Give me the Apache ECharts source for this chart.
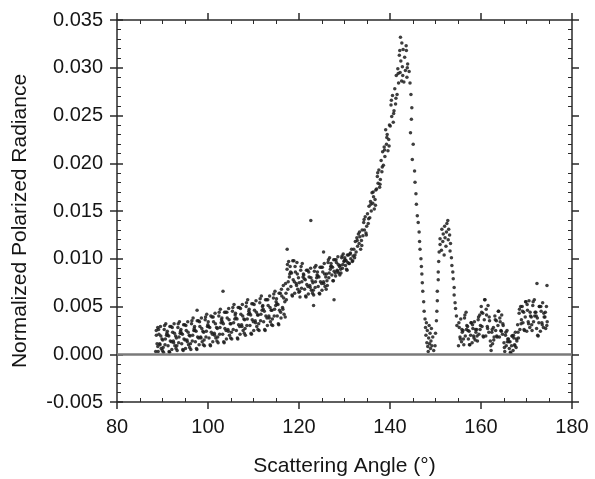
<!DOCTYPE html>
<html>
<head>
<meta charset="utf-8">
<script src="https://cdn.jsdelivr.net/npm/echarts@6/dist/echarts.min.js"></script>
<style>
  html, body { margin: 0; padding: 0; background: #fff; }
  #chart { width: 595px; height: 479px; }
</style>
</head>
<body>
<div id="chart"></div>
<script>
  // axis ticks
  var angleTicks = [80, 100, 120, 140, 160, 180]
  var radianceTicks = [-0.005, 0.000, 0.005, 0.010, 0.015, 0.020, 0.025, 0.030, 0.035]

  // [scattering angle (deg), normalized polarized radiance]
  var broadBand = [
    [88.5,0.0003],[88.65,0.0020],[88.8,0.0011],[88.95,0.0028],
    [89.05,0.0003],[89.22,0.0021],[89.38,0.0011],[89.55,0.0029],[89.72,0.0006],[89.88,0.0016],
    [90.05,0.0015],[90.22,0.0002],[90.38,0.0026],[90.55,0.0010],[90.72,0.0032],[90.88,0.0020],
    [91.05,0.0024],[91.22,0.0009],[91.38,0.0019],[91.55,0.0002],[91.72,0.0014],[91.88,0.0029],
    [92.05,0.0005],[92.22,0.0023],[92.38,0.0014],[92.55,0.0032],[92.72,0.0009],[92.88,0.0019],
    [93.05,0.0017],[93.22,0.0004],[93.38,0.0028],[93.55,0.0012],[93.72,0.0034],[93.88,0.0022],
    [94.05,0.0026],[94.22,0.0011],[94.38,0.0021],[94.55,0.0004],[94.72,0.0016],[94.88,0.0031],
    [95.05,0.0006],[95.22,0.0025],[95.38,0.0015],[95.55,0.0034],[95.72,0.0010],[95.88,0.0020],
    [96.05,0.0019],[96.22,0.0005],[96.38,0.0032],[96.55,0.0014],[96.72,0.0038],[96.88,0.0025],
    [97.05,0.0029],[97.22,0.0013],[97.38,0.0024],[97.55,0.0005],[97.72,0.0018],[97.88,0.0035],
    [98.05,0.0010],[98.22,0.0029],[98.38,0.0018],[98.55,0.0038],[98.72,0.0013],[98.88,0.0024],
    [99.05,0.0023],[99.22,0.0009],[99.38,0.0036],[99.55,0.0018],[99.72,0.0042],[99.88,0.0029],
    [100.05,0.0034],[100.22,0.0017],[100.38,0.0028],[100.55,0.0009],[100.72,0.0023],[100.88,0.0039],
    [101.05,0.0013],[101.22,0.0034],[101.38,0.0022],[101.55,0.0043],[101.72,0.0017],[101.88,0.0028],
    [102.05,0.0027],[102.22,0.0012],[102.38,0.0040],[102.55,0.0021],[102.72,0.0047],[102.88,0.0033],
    [103.05,0.0038],[103.22,0.0021],[103.38,0.0032],[103.55,0.0012],[103.72,0.0027],[103.88,0.0044],
    [104.05,0.0016],[104.22,0.0038],[104.38,0.0026],[104.55,0.0048],[104.72,0.0020],[104.88,0.0032],
    [105.05,0.0032],[105.22,0.0016],[105.38,0.0045],[105.55,0.0026],[105.72,0.0052],[105.88,0.0037],
    [106.05,0.0043],[106.22,0.0025],[106.38,0.0037],[106.55,0.0016],[106.72,0.0031],[106.88,0.0049],
    [107.05,0.0021],[107.22,0.0042],[107.38,0.0031],[107.55,0.0052],[107.72,0.0025],[107.88,0.0037],
    [108.05,0.0036],[108.22,0.0020],[108.38,0.0050],[108.55,0.0030],[108.72,0.0057],[108.88,0.0042],
    [109.05,0.0047],[109.22,0.0030],[109.38,0.0041],[109.55,0.0021],[109.72,0.0036],[109.88,0.0053],
    [110.05,0.0025],[110.22,0.0046],[110.38,0.0035],[110.55,0.0056],[110.72,0.0029],[110.88,0.0041],
    [111.05,0.0041],[111.22,0.0025],[111.38,0.0054],[111.55,0.0035],[111.72,0.0061],[111.88,0.0046],
    [112.05,0.0051],[112.22,0.0034],[112.38,0.0045],[112.55,0.0025],[112.72,0.0040],[112.88,0.0057],
    [113.05,0.0030],[113.22,0.0051],[113.38,0.0040],[113.55,0.0061],[113.72,0.0034],[113.88,0.0046],
    [114.05,0.0046],[114.22,0.0030],[114.38,0.0059],[114.55,0.0040],[114.72,0.0066],[114.88,0.0051],
    [115.05,0.0058],[115.22,0.0040],[115.38,0.0052],[115.55,0.0031],[115.72,0.0046],[115.88,0.0064],
    [116.05,0.0038],[116.22,0.0061],[116.38,0.0049],[116.55,0.0072],[116.72,0.0042],[116.88,0.0055],
    [117.05,0.0074],[117.22,0.0057],[117.38,0.0089],[117.55,0.0068],[117.72,0.0097],[117.88,0.0081],
    [118.05,0.0092],[118.22,0.0071],[118.38,0.0085],[118.55,0.0061],[118.72,0.0078],[118.88,0.0098],
    [119.05,0.0064],[119.22,0.0086],[119.38,0.0074],[119.55,0.0096],[119.72,0.0068],[119.88,0.0080],
    [120.05,0.0075],[120.22,0.0060],[120.38,0.0088],[120.55,0.0069],[120.72,0.0095],[120.88,0.0081],
    [121.05,0.0083],[121.22,0.0068],[121.38,0.0078],[121.55,0.0060],[121.72,0.0073],[121.88,0.0088],
    [122.05,0.0063],[122.22,0.0081],[122.38,0.0072],[122.55,0.0090],[122.72,0.0067],[122.88,0.0077],
    [123.05,0.0075],[123.22,0.0062],[123.38,0.0087],[123.55,0.0070],[123.72,0.0093],[123.88,0.0080],
    [124.05,0.0086],[124.22,0.0071],[124.38,0.0081],[124.55,0.0063],[124.72,0.0076],[124.88,0.0091],
    [125.05,0.0067],[125.22,0.0086],[125.38,0.0076],[125.55,0.0095],[125.72,0.0071],[125.88,0.0081],
    [126.05,0.0084],[126.22,0.0072],[126.38,0.0096],[126.55,0.0080],[126.72,0.0101],[126.88,0.0089],
    [127.05,0.0095],[127.22,0.0083],[127.38,0.0091],[127.55,0.0077],[127.72,0.0087],[127.88,0.0099],
    [128.05,0.0082],[128.22,0.0096],[128.38,0.0088],[128.55,0.0102],[128.72,0.0085],[128.88,0.0092],
    [129.05,0.0093],[129.22,0.0085],[129.38,0.0101],[129.55,0.0090],[129.72,0.0105],[129.88,0.0097],
    [130.05,0.0101],[130.22,0.0093],[130.38,0.0098],[130.55,0.0088],[130.72,0.0096],[130.88,0.0104]
  ]

  // second pass over the same band, in between the first
  var broadBandFill = [
    [88.63,0.0025],[88.97,0.0008],
    [89.14,0.0026],[89.46,0.0010],[89.63,0.0019],[89.97,0.0004],
    [90.14,0.0007],[90.46,0.0030],[90.63,0.0016],[90.97,0.0022],
    [91.14,0.0020],[91.46,0.0003],[91.63,0.0029],[91.97,0.0013],
    [92.14,0.0028],[92.46,0.0012],[92.63,0.0022],[92.97,0.0006],
    [93.14,0.0009],[93.46,0.0032],[93.63,0.0018],[93.97,0.0024],
    [94.14,0.0022],[94.46,0.0005],[94.63,0.0031],[94.97,0.0015],
    [95.14,0.0030],[95.46,0.0013],[95.63,0.0023],[95.97,0.0007],
    [96.14,0.0011],[96.46,0.0035],[96.63,0.0020],[96.97,0.0027],
    [97.14,0.0025],[97.46,0.0006],[97.63,0.0035],[97.97,0.0017],
    [98.14,0.0034],[98.46,0.0017],[98.63,0.0027],[98.97,0.0010],
    [99.14,0.0015],[99.46,0.0039],[99.63,0.0024],[99.97,0.0031],
    [100.14,0.0029],[100.46,0.0010],[100.63,0.0040],[100.97,0.0021],
    [101.14,0.0039],[101.46,0.0020],[101.63,0.0032],[101.97,0.0014],
    [102.14,0.0018],[102.46,0.0044],[102.63,0.0028],[102.97,0.0036],
    [103.14,0.0034],[103.46,0.0013],[103.63,0.0044],[103.97,0.0025],
    [104.14,0.0044],[104.46,0.0024],[104.63,0.0036],[104.97,0.0017],
    [105.14,0.0023],[105.46,0.0049],[105.63,0.0033],[105.97,0.0041],
    [106.14,0.0038],[106.46,0.0017],[106.63,0.0049],[106.97,0.0029],
    [107.14,0.0048],[107.46,0.0029],[107.63,0.0040],[107.97,0.0022],
    [108.14,0.0027],[108.46,0.0054],[108.63,0.0037],[108.97,0.0045],
    [109.14,0.0043],[109.46,0.0022],[109.63,0.0053],[109.97,0.0034],
    [110.14,0.0052],[110.46,0.0033],[110.63,0.0044],[110.97,0.0026],
    [111.14,0.0032],[111.46,0.0058],[111.63,0.0042],[111.97,0.0050],
    [112.14,0.0047],[112.46,0.0026],[112.63,0.0057],[112.97,0.0038],
    [113.14,0.0057],[113.46,0.0038],[113.63,0.0049],[113.97,0.0031],
    [114.14,0.0037],[114.46,0.0063],[114.63,0.0047],[114.97,0.0055],
    [115.14,0.0053],[115.46,0.0032],[115.63,0.0064],[115.97,0.0044],
    [116.14,0.0068],[116.46,0.0047],[116.63,0.0059],[116.97,0.0039],
    [117.14,0.0064],[117.46,0.0094],[117.63,0.0076],[117.97,0.0084],
    [118.14,0.0086],[118.46,0.0062],[118.63,0.0098],[118.97,0.0076],
    [119.14,0.0092],[119.46,0.0072],[119.63,0.0084],[119.97,0.0065],
    [120.14,0.0066],[120.46,0.0092],[120.63,0.0076],[120.97,0.0084],
    [121.14,0.0079],[121.46,0.0061],[121.63,0.0088],[121.97,0.0071],
    [122.14,0.0086],[122.46,0.0070],[122.63,0.0080],[122.97,0.0064],
    [123.14,0.0067],[123.46,0.0091],[123.63,0.0076],[123.97,0.0083],
    [124.14,0.0082],[124.46,0.0064],[124.63,0.0091],[124.97,0.0074],
    [125.14,0.0091],[125.46,0.0074],[125.63,0.0084],[125.97,0.0068],
    [126.14,0.0077],[126.46,0.0099],[126.63,0.0085],[126.97,0.0092],
    [127.14,0.0092],[127.46,0.0077],[127.63,0.0099],[127.97,0.0085],
    [128.14,0.0099],[128.46,0.0087],[128.63,0.0094],[128.97,0.0083],
    [129.14,0.0089],[129.46,0.0103],[129.63,0.0094],[129.97,0.0098],
    [130.14,0.0099],[130.46,0.0089],[130.63,0.0104],[130.97,0.0095]
  ]

  var strays = [
    [97.6,0.0046],[103.3,0.0066],[117.4,0.0110],[122.6,0.0140],
    [123.2,0.0051],[127.7,0.0057],[125.4,0.0107]
  ]

  var peakRise = [
    [131.05,0.0095],[131.22,0.0105],[131.38,0.0100],[131.55,0.0110],[131.72,0.0097],[131.88,0.0103],
    [132.05,0.0110],[132.22,0.0101],[132.38,0.0118],[132.55,0.0107],[132.72,0.0122],[132.88,0.0113],
    [133.05,0.0126],[133.22,0.0116],[133.38,0.0123],[133.55,0.0110],[133.72,0.0119],[133.88,0.0130],
    [134.05,0.0124],[134.22,0.0138],[134.38,0.0130],[134.55,0.0144],[134.72,0.0127],[134.88,0.0134],
    [135.05,0.0147],[135.22,0.0137],[135.38,0.0155],[135.55,0.0143],[135.72,0.0160],[135.88,0.0150],
    [136.05,0.0169],[136.22,0.0158],[136.38,0.0165],[136.55,0.0152],[136.72,0.0162],[136.88,0.0172],
    [137.05,0.0173],[137.22,0.0186],[137.38,0.0179],[137.55,0.0193],[137.72,0.0175],[137.88,0.0183],
    [138.05,0.0203],[138.22,0.0191],[138.38,0.0212],[138.55,0.0198],[138.72,0.0217],[138.88,0.0207],
    [139.05,0.0235],[139.22,0.0220],[139.38,0.0230],[139.55,0.0213],[139.72,0.0225],[139.88,0.0240],
    [140.05,0.0239],[140.22,0.0261],[140.38,0.0249],[140.55,0.0271],[140.72,0.0243],[140.88,0.0255],
    [141.05,0.0278],[141.22,0.0262],[141.38,0.0292],[141.55,0.0272],[141.72,0.0299],[141.88,0.0284],
    [142.05,0.0313],[142.22,0.0295],[142.38,0.0307],[142.55,0.0286],[142.72,0.0301],[142.88,0.0319],
    [142.3,0.0332],[142.6,0.0326],
    [143.05,0.0285],[143.22,0.0311],[143.38,0.0297],[143.55,0.0323],[143.72,0.0290],[143.88,0.0304],
    [143.6,0.0318],[143.8,0.0300],
    [131.3,0.0106],[131.8,0.0098],[132.3,0.0104],[132.8,0.0119],[133.3,0.0128],[133.8,0.0114],
    [134.3,0.0141],[134.8,0.0125],[135.3,0.0142],[135.8,0.0157],[136.3,0.0170],[136.8,0.0156],
    [137.3,0.0190],[137.8,0.0178],[138.3,0.0196],[138.8,0.0214],[139.3,0.0227],[139.8,0.0218],
    [140.3,0.0266],[140.8,0.0252],[141.3,0.0268],[141.8,0.0294],[142.15,0.0318],[142.8,0.0292]
  ]

  var peakFall = [
    [144.2,0.0296],[144.4,0.0284],[144.6,0.0272],[144.8,0.0258],[144.7,0.0246],[144.5,0.0232],
    [145.1,0.0220],[144.9,0.0204],[145.4,0.0192],[145.5,0.0180],[145.7,0.0168],[145.8,0.0157],
    [146.0,0.0145],[146.2,0.0138],[146.4,0.0128],[146.5,0.0118],[146.6,0.0110],[146.8,0.0100],
    [146.9,0.0092],[147.0,0.0084],[147.1,0.0075],[147.2,0.0066],[147.4,0.0055],[147.5,0.0045],
    [147.7,0.0037],[147.8,0.0028],[147.9,0.0020],[148.0,0.0033],[148.1,0.0012],[148.2,0.0025],
    [148.3,0.0008],[148.4,0.0003],[148.5,0.0017],[148.6,0.0030],[148.7,0.0011],[148.8,0.0022],
    [148.9,0.0006],[149.0,0.0014],[149.1,0.0027],[149.2,0.0009],[149.4,0.0018],[149.6,0.0004]
  ]

  var secondPeak = [
    [149.9,0.0009],[150.0,0.0022],[150.2,0.0035],[150.3,0.0045],[150.4,0.0056],[150.4,0.0066],
    [150.6,0.0078],[150.6,0.0086],[150.7,0.0097],[150.8,0.0107],[151.0,0.0115],[151.0,0.0121],
    [151.3,0.0109],[151.4,0.0131],[151.6,0.0118],[151.7,0.0126],[151.9,0.0104],[152.0,0.0134],
    [152.1,0.0122],[152.3,0.0113],[152.4,0.0128],[152.5,0.0137],[152.7,0.0140],[152.8,0.0120],
    [152.9,0.0131],[153.1,0.0125],[153.2,0.0108],[153.3,0.0116],[153.5,0.0101],[153.6,0.0093],
    [153.8,0.0086],[153.9,0.0079],[154.1,0.0070],[154.1,0.0062],[154.3,0.0054],[154.4,0.0048],
    [154.6,0.0040],[154.7,0.0030]
  ]

  var tail = [
    [155.05,0.0009],[155.22,0.0028],[155.38,0.0018],[155.55,0.0037],[155.72,0.0013],[155.88,0.0023],
    [156.05,0.0025],[156.22,0.0010],[156.38,0.0038],[156.55,0.0019],[156.72,0.0044],[156.88,0.0030],
    [157.05,0.0029],[157.22,0.0016],[157.38,0.0024],[157.55,0.0010],[157.72,0.0020],[157.88,0.0033],
    [158.05,0.0012],[158.22,0.0027],[158.38,0.0019],[158.55,0.0034],[158.72,0.0015],[158.88,0.0023],
    [159.05,0.0026],[159.22,0.0014],[159.38,0.0036],[159.55,0.0021],[159.72,0.0041],[159.88,0.0030],
    [160.05,0.0050],[160.22,0.0029],[160.38,0.0043],[160.55,0.0018],[160.72,0.0036],[160.88,0.0057],
    [161.05,0.0019],[161.22,0.0041],[161.38,0.0029],[161.55,0.0051],[161.72,0.0023],[161.88,0.0035],
    [162.05,0.0014],[162.22,0.0004],[162.38,0.0023],[162.55,0.0011],[162.72,0.0028],[162.88,0.0018],
    [163.05,0.0040],[163.22,0.0025],[163.38,0.0035],[163.55,0.0018],[163.72,0.0030],[163.88,0.0045],
    [164.05,0.0018],[164.22,0.0034],[164.38,0.0025],[164.55,0.0041],[164.72,0.0021],[164.88,0.0030],
    [165.05,0.0012],[165.22,0.0003],[165.38,0.0020],[165.55,0.0009],[165.72,0.0025],[165.88,0.0016],
    [166.05,0.0016],[166.22,0.0006],[166.38,0.0013],[166.55,0.0001],[166.72,0.0009],[166.88,0.0019],
    [167.05,0.0004],[167.22,0.0017],[167.38,0.0010],[167.55,0.0023],[167.72,0.0007],[167.88,0.0014],
    [168.05,0.0031],[168.22,0.0017],[168.38,0.0043],[168.55,0.0026],[168.72,0.0050],[168.88,0.0036],
    [169.05,0.0050],[169.22,0.0033],[169.38,0.0044],[169.55,0.0025],[169.72,0.0039],[169.88,0.0055],
    [170.05,0.0024],[170.22,0.0046],[170.38,0.0034],[170.55,0.0056],[170.72,0.0028],[170.88,0.0040],
    [171.05,0.0039],[171.22,0.0025],[171.38,0.0051],[171.55,0.0034],[171.72,0.0057],[171.88,0.0044],
    [172.05,0.0044],[172.22,0.0027],[172.38,0.0038],[172.55,0.0019],[172.72,0.0033],[172.88,0.0050],
    [172.3,0.0074],
    [173.05,0.0024],[173.22,0.0045],[173.38,0.0033],[173.55,0.0054],[173.72,0.0028],[173.88,0.0039],
    [174.05,0.0039],[174.22,0.0027],[174.38,0.0050],[174.55,0.0034],[174.5,0.0072],
    [155.14,0.0033],[155.46,0.0016],[155.8,0.0026],[156.14,0.0016],[156.46,0.0041],[156.8,0.0026],
    [157.14,0.0025],[157.46,0.0010],[157.8,0.0033],[158.14,0.0031],[158.46,0.0017],[158.8,0.0026],
    [159.14,0.0019],[159.46,0.0039],[159.8,0.0026],[160.14,0.0044],[160.46,0.0019],[160.8,0.0057],
    [161.14,0.0047],[161.46,0.0027],[161.8,0.0039],[162.14,0.0009],[162.46,0.0026],[162.8,0.0015],
    [163.14,0.0036],[163.46,0.0019],[163.8,0.0045],[164.14,0.0038],[164.46,0.0024],[164.8,0.0032],
    [165.14,0.0007],[165.46,0.0023],[165.8,0.0013],[166.14,0.0013],[166.46,0.0002],[166.8,0.0019],
    [167.14,0.0020],[167.46,0.0009],[167.8,0.0016],[168.14,0.0023],[168.46,0.0047],[168.8,0.0032],
    [169.14,0.0045],[169.46,0.0026],[169.8,0.0055],[170.14,0.0052],[170.46,0.0032],[170.8,0.0044],
    [171.14,0.0031],[171.46,0.0055],[171.8,0.0040],[172.14,0.0040],[172.46,0.0020],[172.8,0.0050],
    [173.14,0.0050],[173.46,0.0031],[173.8,0.0043],[174.14,0.0044],[174.46,0.0030]
  ]

  var font = "'Liberation Sans', Arial, sans-serif"
  var ink = '#2a2a2a'

  function frame(extra) {
    var base = {
      type: 'value',
      axisLine: {show: false, onZero: false, lineStyle: {color: ink, width: 1.5}},
      axisTick: {show: false, length: 7, lineStyle: {color: ink, width: 1.5}},
      minorTick: {show: false, length: 4, lineStyle: {color: ink, width: 1}},
      axisLabel: {show: false},
      splitLine: {show: false}
    }
    return echarts.util.merge(base, extra, true)
  }

  var xScale = {min: angleTicks[0], max: angleTicks[angleTicks.length - 1], interval: 20}
  var yScale = {min: radianceTicks[0], max: radianceTicks[radianceTicks.length - 1], interval: 0.005}

  var chart = echarts.init(document.getElementById('chart'))
  chart.setOption({
    animation: false,
    backgroundColor: '#fff',
    grid: {left: 117, right: 23, top: 20, bottom: 77, outerBoundsMode: 'none', containLabel: false},
    xAxis: [
      frame(Object.assign({}, xScale, {
        position: 'bottom',
        axisLine: {show: true},
        axisTick: {show: true},
        axisLabel: {show: true, fontSize: 20, fontFamily: font, color: '#151515', margin: 15},
        name: 'Scattering Angle (°)',
        nameLocation: 'middle',
        nameGap: 54,
        nameTextStyle: {fontSize: 21, fontFamily: font, color: '#151515'}
      })),
      frame(Object.assign({}, xScale, {
        position: 'bottom',
        axisTick: {inside: true},
        minorTick: {show: true, splitNumber: 4}
      })),
      frame(Object.assign({}, xScale, {
        position: 'top',
        axisLine: {show: true},
        axisTick: {show: true}
      })),
      frame(Object.assign({}, xScale, {
        position: 'top',
        axisTick: {inside: true},
        minorTick: {show: true, splitNumber: 4}
      }))
    ],
    yAxis: [
      frame(Object.assign({}, yScale, {
        position: 'left',
        axisLine: {show: true},
        axisTick: {show: true},
        axisLabel: {
          show: true, fontSize: 20, fontFamily: font, color: '#151515', margin: 14,
          formatter: function (v) { return v.toFixed(3) }
        },
        name: 'Normalized Polarized Radiance',
        nameLocation: 'middle',
        nameGap: 86,
        nameTextStyle: {fontSize: 21, fontFamily: font, color: '#151515', padding: [0, 20, 0, 0]}
      })),
      frame(Object.assign({}, yScale, {
        position: 'left',
        axisTick: {show: true, inside: true, length: 6},
        minorTick: {show: true, splitNumber: 5}
      })),
      frame(Object.assign({}, yScale, {
        position: 'right',
        axisLine: {show: true},
        axisTick: {show: true}
      })),
      frame(Object.assign({}, yScale, {
        position: 'right',
        axisTick: {inside: true},
        minorTick: {show: true, splitNumber: 5}
      }))
    ],
    series: [{
      type: 'scatter',
      xAxisIndex: 0,
      yAxisIndex: 0,
      symbol: 'circle',
      symbolSize: 3.5,
      itemStyle: {color: '#1c1c1c', opacity: 0.85},
      data: broadBand.concat(broadBandFill, strays, peakRise, peakFall, secondPeak, tail),
      markLine: {
        silent: true,
        symbol: 'none',
        label: {show: false},
        lineStyle: {color: '#7a7a7a', width: 2.5, type: 'solid'},
        data: [{yAxis: 0}]
      }
    }]
  })
</script>
</body>
</html>
